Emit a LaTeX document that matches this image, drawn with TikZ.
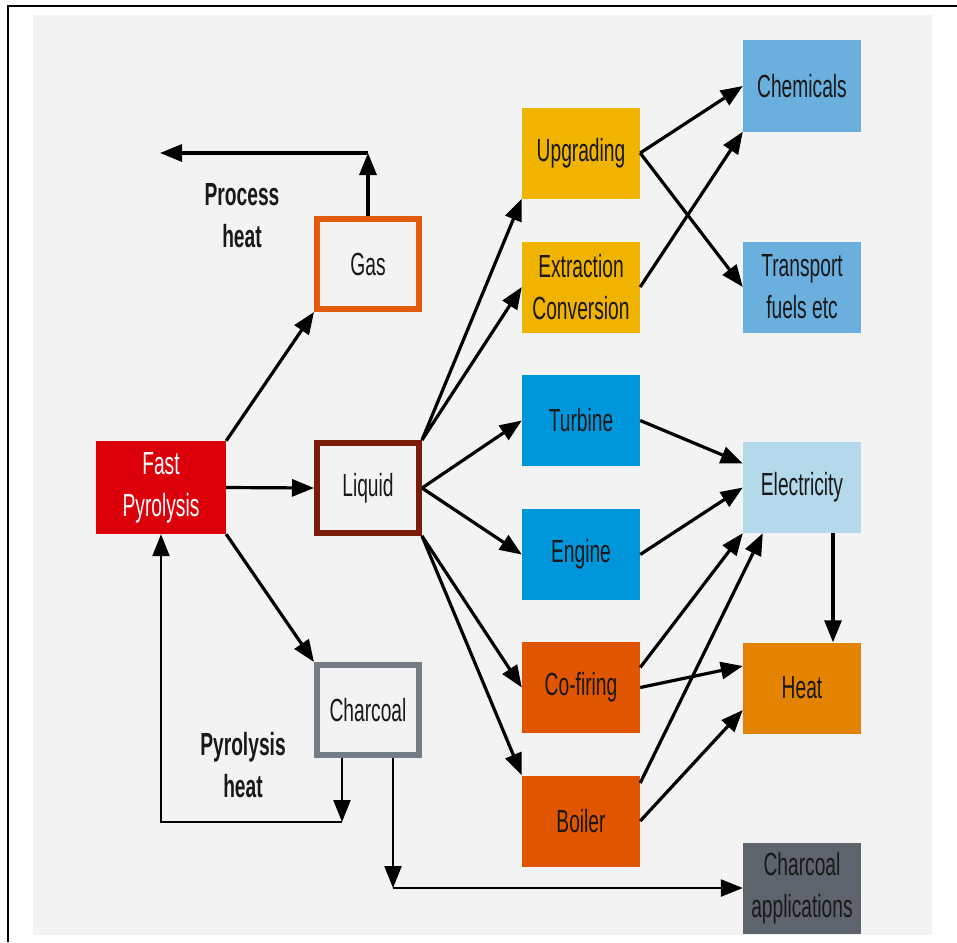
\documentclass[tikz,border=0pt]{standalone}
\usepackage{fontspec}
\setmainfont{Liberation Sans}[FakeStretch=0.6]
\usetikzlibrary{arrows.meta}
\definecolor{bgray}{RGB}{243,243,243}
\definecolor{txt}{RGB}{25,25,25}
\definecolor{fpred}{RGB}{220,0,10}
\definecolor{gasor}{RGB}{224,90,10}
\definecolor{liqbr}{RGB}{122,28,8}
\definecolor{chgray}{RGB}{116,125,135}
\definecolor{yel}{RGB}{240,179,0}
\definecolor{blu}{RGB}{0,150,220}
\definecolor{orng}{RGB}{224,85,0}
\definecolor{lblu}{RGB}{106,175,221}
\definecolor{elblu}{RGB}{179,217,234}
\definecolor{heator}{RGB}{227,131,0}
\definecolor{capgray}{RGB}{93,100,107}

\begin{document}
\begin{tikzpicture}[x=1pt,y=-1pt,
    box/.style={minimum width=118pt, minimum height=91pt, inner sep=0pt, align=center,
      text=txt, font=\fontsize{32}{42}\selectfont},
    ring/.style={box, draw, line width=6pt, minimum width=102pt, minimum height=90pt},
    label text/.style={align=center, text=txt, font=\bfseries\fontsize{32}{42}\selectfont},
    arr/.style={-{Triangle[length=22pt,width=17pt]}, line width=3.2pt},
    thin arr/.style={arr, line width=2.4pt}]
    \useasboundingbox (0,0) rectangle (957,942);
    \fill[white] (0,0) rectangle (957,942);
    \fill[bgray] (33,15) rectangle (932,935);
    \draw[line width=2pt] (957,6) -- (8,6) -- (8,942);

    \node (fp) [box, fill=fpred, text=white, minimum width=130pt, minimum height=93pt] at (161,487.5) {Fast\\Pyrolysis};
    \node (gas) [ring, draw=gasor] at (368,264) {Gas};
    \node (liq) [ring, draw=liqbr] at (368,488) {Liquid};
    \node (char) [ring, draw=chgray] at (368,710) {Charcoal};

    \node (upg) [box, fill=yel] at (581,153) {Upgrading};
    \node (ext) [box, fill=yel] at (581,287) {Extraction\\Conversion};
    \node (tur) [box, fill=blu] at (581,420.5) {Turbine};
    \node (eng) [box, fill=blu] at (581,554.5) {Engine};
    \node (cof) [box, fill=orng] at (581,687.5) {Co-firing};
    \node (boi) [box, fill=orng] at (581,821) {Boiler};

    \node (chem) [box, fill=lblu] at (802,86) {Chemicals};
    \node (trans) [box, fill=lblu] at (802,287) {Transport\\fuels etc};
    \node (elec) [box, fill=elblu] at (802,487.5) {Electricity};
    \node (heat) [box, fill=heator] at (802,688) {Heat};
    \node (capp) [box, fill=capgray] at (802,888) {Charcoal\\applications};

    \node (proc) [label text] at (242,216) {Process\\heat};
    \node (pyro) [label text] at (243,765) {Pyrolysis\\heat};

    \coordinate (gtop) at (368,153);
    \coordinate (gend) at (160,153);
    \coordinate (cl) at (342,822);
    \coordinate (cr) at (393,888);

    \draw[arr] (gas.north) -- (gtop);
    \draw[arr] (gtop) -- (gend);
    \draw[arr] (fp.north east) -- (gas.south west);
    \draw[arr] (fp.east) -- (liq.west);
    \draw[arr] (fp.south east) -- (char.north west);
    \draw[thin arr] ([xshift=-26pt]char.south) -- (cl);
    \draw[thin arr] (cl) -| (fp.south);
    \draw[thin arr] ([xshift=25pt]char.south) -- (cr);
    \draw[thin arr] (cr) -- (capp.west);

    \draw[arr] (liq.north east) -- (upg.south west);
    \draw[arr] (liq.north east) -- (ext.west);
    \draw[arr] (liq.east) -- (tur.west);
    \draw[arr] (liq.east) -- (eng.west);
    \draw[arr] (liq.south east) -- (cof.west);
    \draw[arr] (liq.south east) -- (boi.north west);

    \draw[arr] (upg.east) -- (chem.west);
    \draw[arr] (upg.east) -- (trans.west);
    \draw[arr] (ext.east) -- (chem.south west);
    \draw[arr] (tur.east) -- ([yshift=24pt]elec.west);
    \draw[arr] (eng.east) -- (elec.west);
    \draw[arr] ([yshift=20pt]cof.east) -- (elec.south west);
    \draw[arr] (cof.east) -- ([yshift=22pt]heat.west);
    \draw[arr] ([yshift=38pt]boi.east) -- ([xshift=20pt]elec.south west);
    \draw[arr] (boi.east) -- ([yshift=-22pt]heat.west);
    \draw[arr] ([xshift=31pt]elec.south) -- ([xshift=31pt]heat.north);
\end{tikzpicture}
\end{document}
